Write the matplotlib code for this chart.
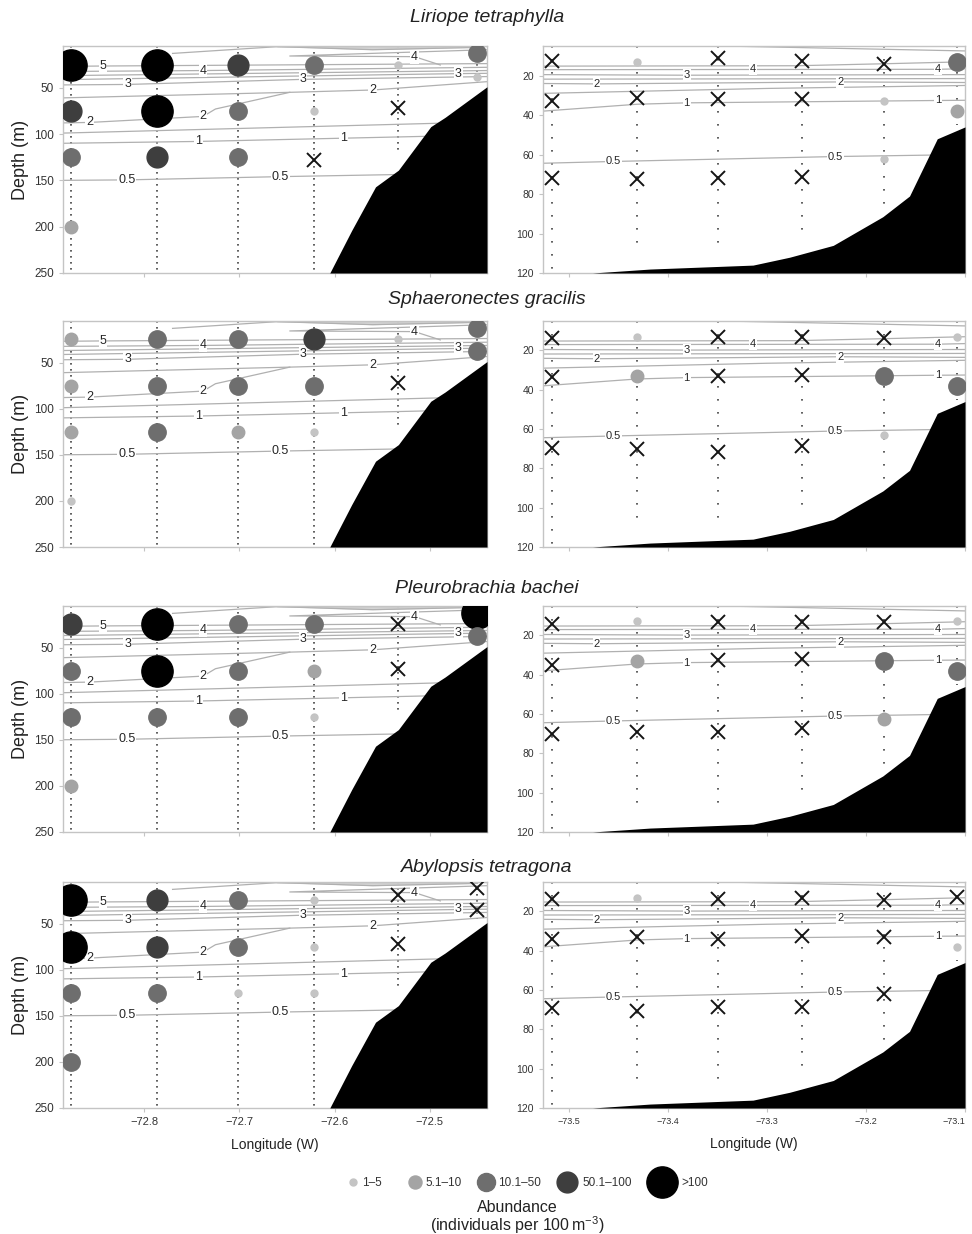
import numpy as np
import matplotlib
matplotlib.use('Agg')
import matplotlib.pyplot as plt

plt.rcParams['font.family'] = ['Liberation Sans', 'DejaVu Sans']
plt.rcParams['mathtext.default'] = 'regular'

species = ['Liriope tetraphylla', 'Sphaeronectes gracilis',
           'Pleurobrachia bachei', 'Abylopsis tetragona']

# abundance classes (0 = not found)
class_labels = ['1\u20135', '5.1\u201310', '10.1\u201350', '50.1\u2013100', '>100']
class_colors = ['#c4c4c4', '#a4a4a4', '#6e6e6e', '#3e3e3e', '#000000']
class_sizes = [5.0, 9.0, 12.5, 15.0, 22.5]

# stations of the two transects
lon_a = [-72.877, -72.786, -72.701, -72.622, -72.533, -72.450]
lon_b = [-73.517, -73.431, -73.349, -73.265, -73.182, -73.108]
cast_a = [250, 250, 250, 250, 122, 45]
cast_b = [120, 110, 110, 100, 87, 45]

# bottom profiles
bathy_a_lon = [-72.605, -72.582, -72.557, -72.533, -72.499, -72.484, -72.44]
bathy_a_dep = [250, 204, 157, 139, 92, 82, 49]
bathy_b_lon = [-73.476, -73.418, -73.314, -73.277, -73.233, -73.183, -73.156, -73.128, -73.1]
bathy_b_dep = [120, 118, 116, 112, 106, 91.5, 81, 52, 46]

# chlorophyll isolines: (label, lon, depth, vertices that carry the label)
iso_a = [
    ('5', [-72.885, -72.843, -72.44], [27, 26.6, 24], [1]),
    ('4', [-72.885, -72.738, -72.44], [32.5, 31.5, 28], [1]),
    ('', [-72.885, -72.44], [37, 31.5], []),
    ('3', [-72.885, -72.470, -72.44], [41.3, 34.8, 34.5], [1]),
    ('3', [-72.885, -72.817, -72.633, -72.44], [47, 46.5, 41, 38], [1, 2]),
    ('2', [-72.885, -72.647, -72.560, -72.44], [61, 55, 52.5, 43.5], [2]),
    ('2', [-72.885, -72.857, -72.738, -72.725, -72.647], [88, 87.5, 81, 73, 55], [1, 2]),
    ('', [-72.885, -72.44], [99, 87], []),
    ('1', [-72.885, -72.743, -72.591, -72.44], [110, 108, 104.5, 101], [1, 2]),
    ('0.5', [-72.885, -72.818, -72.657, -72.44], [150, 149.5, 146, 142], [1, 2]),
    ('', [-72.77, -72.66, -72.44], [13, 5.7, 5.5], []),
    ('', [-72.66, -72.56, -72.45], [5.7, 9, 6.5], []),
    ('4', [-72.44, -72.647, -72.516, -72.489], [9, 15.8, 16.5, 25.5], [2]),
]
# shaded sliver of the uppermost isolines
band_a_lon = [-72.66, -72.56, -72.45]
band_a_dep = [5.7, 9, 6.5]

iso_b = [
    ('', [-73.344, -73.1], [5, 7.5], []),
    ('', [-73.526, -73.27, -73.182, -73.1], [15.2, 15, 14, 13], []),
    ('4', [-73.526, -73.314, -73.127, -73.1], [17, 16.9, 16.8, 16.5], [1, 2]),
    ('3', [-73.526, -73.381, -73.1], [19.5, 19.8, 19.5], [1]),
    ('', [-73.526, -73.1], [21.8, 21.5], []),
    ('2', [-73.526, -73.472, -73.226, -73.1], [24, 24.2, 23.2, 23.5], [1, 2]),
    ('', [-73.526, -73.3, -73.1], [29, 26.5, 25], []),
    ('1', [-73.526, -73.431, -73.381, -73.127, -73.1], [38, 34.5, 33.8, 32.6, 32.5], [2, 3]),
    ('0.5', [-73.526, -73.455, -73.231, -73.1], [64.4, 63.5, 61, 60], [1, 2]),
]

# samples per species: station index, depth, abundance class
liriope_a = [(0, 25, 5), (0, 75, 4), (0, 125, 3), (0, 200, 2),
             (1, 25, 5), (1, 75, 5), (1, 125, 4),
             (2, 25, 4), (2, 75, 3), (2, 125, 3),
             (3, 25, 3), (3, 75, 1), (3, 128, 0),
             (4, 25, 1), (4, 72, 0),
             (5, 13, 3), (5, 38, 1)]
liriope_b = [(0, 12.6, 0), (0, 33, 0), (0, 72, 0),
             (1, 13.3, 1), (1, 31.4, 0), (1, 72.6, 0),
             (2, 11.3, 0), (2, 32, 0), (2, 72, 0),
             (3, 12.6, 0), (3, 32, 0), (3, 71.5, 0),
             (4, 14, 0), (4, 33, 1), (4, 62, 1),
             (5, 13, 3), (5, 38, 2)]
sphaero_a = [(0, 25, 2), (0, 75, 2), (0, 125, 2), (0, 200, 1),
             (1, 25, 3), (1, 75, 3), (1, 125, 3),
             (2, 25, 3), (2, 75, 3), (2, 125, 2),
             (3, 25, 4), (3, 75, 3), (3, 125, 1),
             (4, 25, 1), (4, 72, 0),
             (5, 12.2, 3), (5, 37.5, 3)]
sphaero_b = [(0, 13.8, 0), (0, 33.7, 0), (0, 69.8, 0),
             (1, 13, 1), (1, 33, 2), (1, 70.3, 0),
             (2, 12.9, 0), (2, 33, 0), (2, 71.6, 0),
             (3, 12.9, 0), (3, 32.4, 0), (3, 68.8, 0),
             (4, 13.8, 0), (4, 33, 3), (4, 63, 1),
             (5, 12.9, 1), (5, 38, 3)]
pleuro_a = [(0, 25, 4), (0, 75, 3), (0, 125, 3), (0, 200, 2),
            (1, 25, 5), (1, 75, 5), (1, 125, 3),
            (2, 25, 3), (2, 75, 3), (2, 125, 3),
            (3, 25, 3), (3, 75, 2), (3, 125, 1),
            (4, 25, 0), (4, 73, 0),
            (5, 12.2, 5), (5, 37.5, 3)]
pleuro_b = [(0, 14.3, 0), (0, 35, 0), (0, 70.3, 0),
            (1, 12.6, 1), (1, 33, 2), (1, 69, 0),
            (2, 13.3, 0), (2, 32.5, 0), (2, 69, 0),
            (3, 13.3, 0), (3, 32, 0), (3, 67.3, 0),
            (4, 13.3, 0), (4, 33, 3), (4, 62.5, 2),
            (5, 12.6, 1), (5, 38, 3)]
abylo_a = [(0, 25, 5), (0, 75, 5), (0, 125, 3), (0, 200, 3),
           (1, 25, 4), (1, 75, 4), (1, 125, 3),
           (2, 25, 3), (2, 75, 3), (2, 125, 1),
           (3, 25, 1), (3, 75, 1), (3, 125, 1),
           (4, 19, 0), (4, 72.5, 0),
           (5, 11.8, 0), (5, 35.4, 0)]
abylo_b = [(0, 13.8, 0), (0, 34, 0), (0, 69, 0),
           (1, 13, 1), (1, 32.8, 0), (1, 70.5, 0),
           (2, 13.8, 0), (2, 34, 0), (2, 68.5, 0),
           (3, 13, 0), (3, 32.5, 0), (3, 68.5, 0),
           (4, 14.2, 0), (4, 32.8, 0), (4, 62.2, 0),
           (5, 12.5, 0), (5, 38.2, 1)]

samples = [(liriope_a, liriope_b), (sphaero_a, sphaero_b),
           (pleuro_a, pleuro_b), (abylo_a, abylo_b)]

W, H = 972, 1234
rows_px = [(46, 273), (321, 547), (606, 832), (882, 1108)]
title_px = [18, 300, 588, 868]

fig = plt.figure(figsize=(W / 100, H / 100), dpi=100)

SPINE = '#c4c4c4'
TXT = '#333333'


def draw_panel(ax, lons, casts, blon, bdep, isolines, data, xlim, ylim, dots, fs):
    ax.set_xlim(*xlim)
    ax.set_ylim(*ylim)
    for lon, bottom in zip(lons, casts):
        ax.plot([lon, lon], [ylim[1], bottom], color='#444444', lw=1.2,
                ls=dots, zorder=1)
    for label, lx, ly, at in isolines:
        ax.plot(lx, ly, color='#b0b0b0', lw=0.9, zorder=2)
        for i in at:
            ax.text(lx[i], ly[i], label, fontsize=fs, color='#262626',
                    ha='center', va='center', zorder=2.5,
                    bbox=dict(facecolor='white', edgecolor='none', pad=0.6))
    ax.fill_between(blon, bdep, ylim[0], color='black', lw=0, zorder=3)
    for st, dep, cls in data:
        if cls == 0:
            ax.plot(lons[st], dep, marker='x', ms=9.5, mew=1.4,
                    color='#151515', ls='none', zorder=4)
        else:
            c = class_colors[cls - 1]
            ax.plot(lons[st], dep, marker='o', ms=class_sizes[cls - 1],
                    mfc=c, mec=c, ls='none', zorder=4)
    for s in ax.spines.values():
        s.set_color(SPINE)
        s.set_linewidth(1.0)
    ax.tick_params(colors=SPINE, labelcolor=TXT, length=3, width=0.8)


for r, (top, bot) in enumerate(rows_px):
    h = (bot - top) / H
    y0 = 1 - bot / H
    axl = fig.add_axes([63 / W, y0, (487 - 63) / W, h])
    axr = fig.add_axes([543 / W, y0, (965 - 543) / W, h])
    data_a, data_b = samples[r]
    draw_panel(axl, lon_a, cast_a, bathy_a_lon, bathy_a_dep, iso_a, data_a,
               (-72.885, -72.44), (250, 5), (0, (1, 2.6)), 9)
    axl.fill_between(band_a_lon, 5.6, band_a_dep, color='#d4d4d4', lw=0, zorder=1.5)
    draw_panel(axr, lon_b, cast_b, bathy_b_lon, bathy_b_dep, iso_b, data_b,
               (-73.526, -73.1), (120, 5), (0, (1, 6.8)), 8)
    axl.set_yticks([50, 100, 150, 200, 250])
    axr.set_yticks([20, 40, 60, 80, 100, 120])
    axl.set_xticks([-72.8, -72.7, -72.6, -72.5])
    axr.set_xticks([-73.5, -73.4, -73.3, -73.2, -73.1])
    axl.tick_params(axis='y', labelsize=8.5)
    axr.tick_params(axis='y', labelsize=7.5)
    axl.set_ylabel('Depth (m)', fontsize=13, color='#222222', labelpad=4)
    if r < 3:
        axl.tick_params(axis='x', labelbottom=False)
        axr.tick_params(axis='x', labelbottom=False)
    else:
        axl.tick_params(axis='x', labelsize=8)
        axr.tick_params(axis='x', labelsize=6.5)
        # keep the last label inside the figure edge
        axr.get_xticklabels()[-1].set_ha('right')
        axl.set_xlabel('Longitude (W)', fontsize=10, color='#222222', labelpad=8)
        axr.set_xlabel('Longitude (W)', fontsize=10, color='#222222', labelpad=8)
    fig.text(0.501, 1 - title_px[r] / H, species[r], fontsize=14, style='italic',
             ha='center', va='center', color='#222222')

# abundance key, laid out in figure pixels
key = fig.add_axes([0, 0, 1, 1], facecolor='none')
key.set_xlim(0, W)
key.set_ylim(H, 0)
key.axis('off')
key_dot_x = [353, 415, 486, 567, 662]
key_txt_x = [362, 425, 498, 582, 681]
key_sizes = [5.0, 9.4, 13.0, 15.0, 22.5]
for i in range(5):
    key.plot(key_dot_x[i], 1182, marker='o', ms=key_sizes[i], ls='none',
             mfc=class_colors[i], mec=class_colors[i])
    key.text(key_txt_x[i], 1183, class_labels[i], fontsize=8.5, color=TXT,
             ha='left', va='center')
key.text(517, 1207, 'Abundance', fontsize=11.5, ha='center', va='center',
         color='#222222')
key.text(517, 1225, '(individuals per 100$\\,$m$^{-3}$)', fontsize=11.5,
         ha='center', va='center', color='#222222')

fig.savefig('out.png', dpi=100, facecolor='white')
